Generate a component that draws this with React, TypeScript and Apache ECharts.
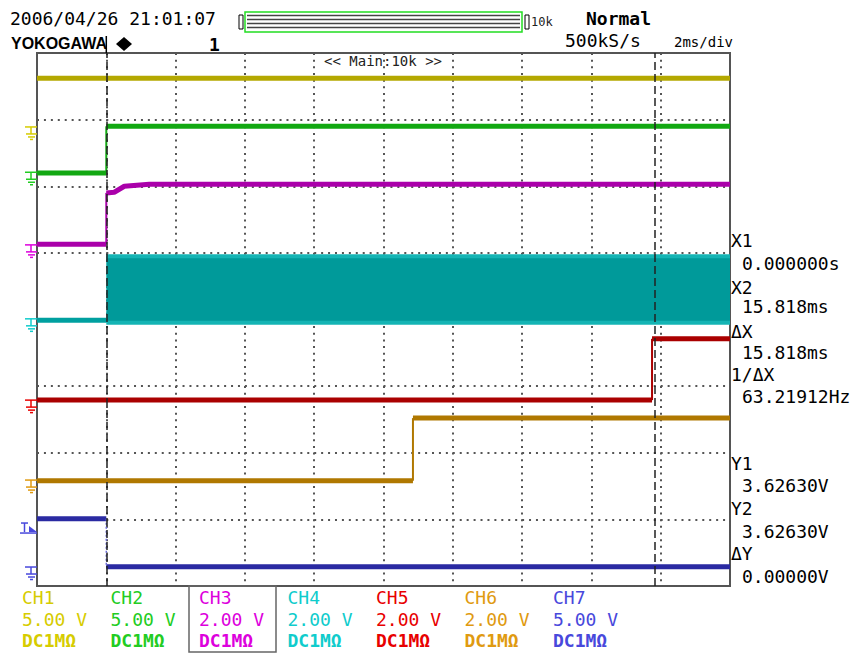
import React, { useEffect, useRef } from "react";
import * as echarts from "echarts";

// ---- time axis (ms) and vertical divisions ----
const timeMin = -2;
const timeMax = 18;
const timeStep = 2;
const divMin = 0;
const divMax = 8;

// ---- traces (time in ms, level in divisions from bottom) ----
const ch1Times = [-2, 18];
const ch1Levels = [7.62, 7.62];
const ch2Times = [-2, 0, 0, 18];
const ch2Levels = [6.2, 6.2, 6.9, 6.9];
const ch3Times = [-2, 0, 0, 0.23, 0.52, 1.24, 18];
const ch3Levels = [5.13, 5.13, 5.9, 5.91, 6.0, 6.03, 6.03];
const ch4Times = [-2, 0];
const ch4Levels = [3.99, 3.99];
const ch4BandTimes = [0, 18];
const ch4BandLow = [3.95, 3.95];
const ch4BandHigh = [4.95, 4.95];
const ch5Times = [-2, 15.75, 15.75, 18];
const ch5Levels = [2.79, 2.79, 3.71, 3.71];
const ch6Times = [-2, 8.85, 8.85, 18];
const ch6Levels = [1.58, 1.58, 2.52, 2.52];
const ch7Times = [-2, 0, 0, 18];
const ch7Levels = [1.01, 1.01, 0.29, 0.29];

const groundLevels = [6.89, 6.21, 5.12, 4.01, 2.79, 1.59, 0.285];
const triggerLevel = 0.84;
const cursorTimes = [0, 15.818];

// ---- labels ----
const channelNames = ["CH1", "CH2", "CH3", "CH4", "CH5", "CH6", "CH7"];
const channelScales = ["5.00 V", "5.00 V", "2.00 V", "2.00 V", "2.00 V", "2.00 V", "5.00 V"];
const channelCoupling = ["DC1MΩ", "DC1MΩ", "DC1MΩ", "DC1MΩ", "DC1MΩ", "DC1MΩ", "DC1MΩ"];
const readoutNames = ["X1", "X2", "ΔX", "1/ΔX", "Y1", "Y2", "ΔY"];
const readoutValues = ["0.000000s", "15.818ms", "15.818ms", "63.21912Hz", "3.62630V", "3.62630V", "0.00000V"];

const traceColors = ["#b4a800", "#12a812", "#aa00aa", "#00a0a0", "#aa0000", "#b07800", "#2a2aa2"];
const labelColors = ["#d6cc00", "#22cc22", "#dd00dd", "#10cccc", "#e80000", "#e09a10", "#4848dc"];

// layout
const GL = 37, GT = 53, GW = 693, GH = 533;
const px = (t: number) => GL + ((t - timeMin) / (timeMax - timeMin)) * GW;
const py = (d: number) => GT + GH - ((d - divMin) / (divMax - divMin)) * GH;

const MONO = '"DejaVu Sans Mono"';

function txt(text: string, x: number, y: number, size: number, fill = "#000", weight = "normal", scaleX = 1) {
  return {
    type: "text",
    x,
    y,
    scaleX,
    silent: true,
    z: 20,
    style: {
      text,
      x: 0,
      y: 0,
      fill,
      font: `${weight} ${size}px ${MONO}`,
      align: "left",
      verticalAlign: "middle",
      textAlign: "left",
      textVerticalAlign: "middle",
    },
  };
}

function ln(x1: number, y1: number, x2: number, y2: number, stroke: string, lineWidth = 1.5) {
  return { type: "line", silent: true, z: 20, shape: { x1, y1, x2, y2 }, style: { stroke, lineWidth } };
}

function zip(ts: number[], vs: number[]) {
  return ts.map((t, i) => [t, vs[i]]);
}

// split a stepped trace into level runs (gaps at vertical edges) and edges
function splitTrace(ts: number[], vs: number[]) {
  const runs: any[] = [];
  const edges: any[] = [];
  for (let i = 0; i < ts.length; i++) {
    if (i > 0 && ts[i] === ts[i - 1]) {
      runs.push([ts[i], null]);
      edges.push([ts[i - 1], vs[i - 1]], [ts[i], vs[i]], [ts[i], null]);
    }
    runs.push([ts[i], vs[i]]);
  }
  return { runs, edges };
}

export default function App() {
  const ref = useRef<HTMLDivElement>(null);
  useEffect(() => {
    document.body.style.margin = "0";
    const chart = echarts.init(ref.current!, null, { renderer: "svg" });

    const traces = [
      [ch1Times, ch1Levels],
      [ch2Times, ch2Levels],
      [ch3Times, ch3Levels],
      [ch4Times, ch4Levels],
      [ch5Times, ch5Levels],
      [ch6Times, ch6Levels],
      [ch7Times, ch7Levels],
    ];

    const series: any[] = [];
    traces.forEach(([ts, vs], i) => {
      const { runs, edges } = splitTrace(ts, vs);
      series.push({
        type: "line",
        data: runs,
        symbol: "none",
        connectNulls: false,
        z: 3,
        lineStyle: { color: traceColors[i], width: 5 },
      });
      if (edges.length) {
        series.push({
          type: "line",
          data: edges,
          symbol: "none",
          connectNulls: false,
          z: 3,
          lineStyle: i === 6 ? { color: "#6a6ad8", width: 1.5, type: [2, 2] } : { color: traceColors[i], width: 2 },
        });
      }
    });

    series.push({
      type: "line",
      data: zip(ch4BandTimes, ch4BandHigh),
      symbol: "none",
      z: 3,
      lineStyle: { color: "#14b4b4", width: 4 },
      markArea: {
        silent: true,
        itemStyle: { color: "#009a9a" },
        data: [[{ xAxis: ch4BandTimes[0], yAxis: ch4BandLow[0] }, { xAxis: ch4BandTimes[1], yAxis: ch4BandHigh[0] }]],
      },
    });
    series.push({
      type: "line",
      data: zip(ch4BandTimes, ch4BandLow),
      symbol: "none",
      z: 3,
      lineStyle: { color: "#14b4b4", width: 4 },
    });
    series.push({
      type: "line",
      data: [],
      z: 10,
      markLine: {
        silent: true,
        symbol: "none",
        label: { show: false },
        lineStyle: { color: "#222", width: 1.5, type: [8, 4] },
        data: cursorTimes.map((t) => ({ xAxis: t })),
      },
    });

    const graphic: any[] = [];
    // header
    graphic.push(txt("2006/04/26 21:01:07", 10, 18, 18));
    graphic.push({
      type: "text", x: 11, y: 43, silent: true, z: 20,
      style: { text: "YOKOGAWA", x: 0, y: 0, fill: "#000", font: 'bold 16px "Liberation Sans"', align: "left", verticalAlign: "middle", textAlign: "left", textVerticalAlign: "middle" },
    });
    graphic.push({ type: "polygon", silent: true, z: 20, shape: { points: [[124, 37], [132, 44], [124, 51], [116, 44]] }, style: { fill: "#000" } });
    graphic.push(txt("1", 209, 44, 18, "#000", "bold"));
    graphic.push(ln(px(0), 36, px(0), GT, "#000", 1.5));
    // zoom bar
    graphic.push({ type: "rect", silent: true, z: 20, shape: { x: 245, y: 12, width: 277, height: 20 }, style: { fill: "#fff", stroke: "#22dd22", lineWidth: 1.5 } });
    [15.5, 19.5, 23.5, 27.5].forEach((y) => graphic.push(ln(247, y, 520, y, "#444", 1.5)));
    graphic.push({ type: "rect", silent: true, z: 20, shape: { x: 239, y: 15, width: 4, height: 14 }, style: { fill: "#fff", stroke: "#000", lineWidth: 1 } });
    graphic.push({ type: "rect", silent: true, z: 20, shape: { x: 525, y: 15, width: 4, height: 14 }, style: { fill: "#fff", stroke: "#000", lineWidth: 1 } });
    graphic.push(txt("10k", 531, 22, 12, "#222"));
    graphic.push(txt("Normal", 586, 18, 18, "#000", "bold"));
    graphic.push(txt("500kS/s", 565, 40, 18));
    graphic.push(txt("2ms/div", 674, 42, 14));
    graphic.push(txt("<< Main:10k >>", 324, 61, 14, "#222"));

    // ground markers
    groundLevels.forEach((d, i) => {
      const y = py(d);
      const c = labelColors[i];
      graphic.push(ln(25, y, GL, y, c, 1.5));
      graphic.push(ln(31, y, 31, y + 7, c, 1.5));
      graphic.push(ln(26, y + 7, 37, y + 7, c, 1.5));
      graphic.push(ln(28, y + 10, 35, y + 10, c, 1.5));
      graphic.push(ln(30, y + 12.5, 33, y + 12.5, c, 1.5));
    });
    // trigger marker (CH7)
    {
      const y = py(triggerLevel);
      const c = labelColors[6];
      graphic.push(ln(21, y - 7, 28, y - 7, c, 1.5));
      graphic.push(ln(24.5, y - 7, 24.5, y + 2, c, 1.5));
      graphic.push({ type: "polygon", silent: true, z: 20, shape: { points: [[29, y - 4], [29, y + 2], [37, y + 2]] }, style: { fill: c } });
      graphic.push(ln(20, y + 3, 37, y + 3, c, 1.5));
    }

    // right readouts
    const readoutY = [240, 287, 331, 374, 463, 508, 553];
    const valueY = [263.5, 306, 352.5, 396, 485, 531, 576];
    readoutNames.forEach((n, i) => {
      graphic.push(txt(n, 731, readoutY[i], 18));
      graphic.push(txt(readoutValues[i], 742, valueY[i], 18));
    });

    // channel labels
    channelNames.forEach((n, i) => {
      const x = 22 + i * 88.5;
      graphic.push(txt(n, x, 597, 18, labelColors[i]));
      graphic.push(txt(channelScales[i], x, 619, 18, labelColors[i]));
      graphic.push(txt(channelCoupling[i], x, 640, 18, labelColors[i], "bold"));
    });
    graphic.push({ type: "rect", silent: true, z: 19, shape: { x: 189, y: GT + GH, width: 87, height: 66 }, style: { fill: "none", stroke: "#666", lineWidth: 1.5 } });

    chart.setOption({
      animation: false,
      backgroundColor: "#fff",
      grid: {
        left: GL, top: GT, width: GW, height: GH,
        show: true, borderColor: "#555", borderWidth: 2, backgroundColor: "transparent",
        outerBoundsMode: "none", containLabel: false,
      },
      xAxis: {
        type: "value", min: timeMin, max: timeMax, interval: timeStep,
        axisLine: { show: false }, axisTick: { show: false }, axisLabel: { show: false },
        splitLine: { show: true, lineStyle: { color: "#555", width: 2, type: [2, 4.66] } },
      },
      yAxis: {
        type: "value", min: divMin, max: divMax, interval: 1,
        axisLine: { show: false }, axisTick: { show: false }, axisLabel: { show: false },
        splitLine: { show: true, lineStyle: { color: "#555", width: 2, type: [2, 4.93] } },
      },
      series,
      graphic,
    });
    return () => chart.dispose();
  }, []);
  return <div ref={ref} style={{ width: 854, height: 653 }} />;
}
